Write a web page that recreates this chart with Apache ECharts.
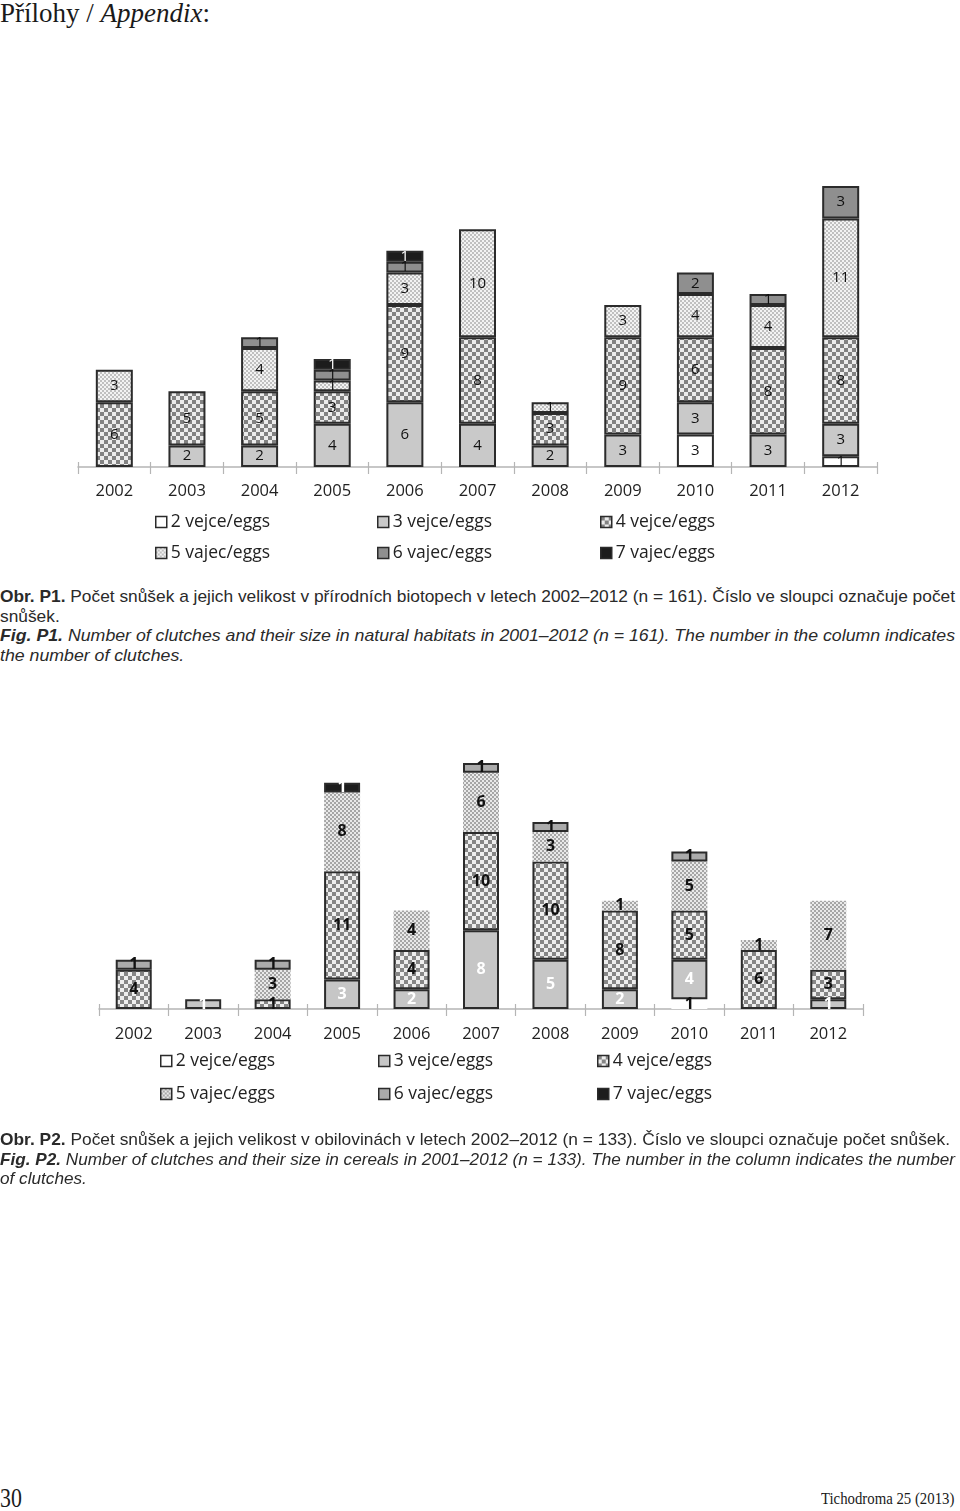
<!DOCTYPE html>
<html>
<head>
<meta charset="utf-8">
<script src="https://cdn.jsdelivr.net/npm/echarts@6/dist/echarts.min.js"></script>
<style>
  html, body { margin:0; padding:0; background:#fff; }
  body { width:960px; height:1511px; position:relative; overflow:hidden; }
  .abs { position:absolute; }
  #c1 { left:0; top:0; width:960px; height:580px; }
  #c2 { left:0; top:720px; width:960px; height:420px; }
  .hdr { left:0; top:-1px; font-family:"Liberation Serif", serif; font-size:27px; line-height:28px; color:#1a1a1a; white-space:nowrap; }
  .cap { left:0; font-family:"Liberation Sans", Arial, sans-serif; font-size:17px; color:#2a2a2a; }
  .cap div { height:19.7px; line-height:19.7px; white-space:nowrap; transform-origin:0 0; }
  .cap span { display:inline-block; }
  .foot { font-family:"Liberation Serif", serif; color:#1a1a1a; white-space:nowrap; transform-origin:0 0; }
</style>
</head>
<body>
<div class="abs hdr">Přílohy / <i>Appendix</i>:</div>
<div id="c1" class="abs"></div>
<div class="abs cap" style="top:587px;">
  <div data-w="955"><span><b>Obr. P1.</b> Počet snůšek a jejich velikost v přírodních biotopech v letech 2002–2012 (n = 161). Číslo ve sloupci označuje počet</span></div>
  <div><span>snůšek.</span></div>
  <div data-w="955"><span><b><i>Fig. P1.</i></b> <i>Number of clutches and their size in natural habitats in 2001–2012 (n = 161). The number in the column indicates</i></span></div>
  <div><span><i>the number of clutches.</i></span></div>
</div>
<div id="c2" class="abs"></div>
<div class="abs cap" style="top:1130px;">
  <div data-w="950"><span><b>Obr. P2.</b> Počet snůšek a jejich velikost v obilovinách v letech 2002–2012 (n = 133). Číslo ve sloupci označuje počet snůšek.</span></div>
  <div data-w="955"><span><b><i>Fig. P2.</i></b> <i>Number of clutches and their size in cereals in 2001–2012 (n = 133). The number in the column indicates the number</i></span></div>
  <div><span><i>of clutches.</i></span></div>
</div>
<div class="abs foot" style="left:0; top:1482px; font-size:28px; transform:scaleX(0.78);">30</div>
<div class="abs foot" style="left:821px; top:1489px; font-size:17px; transform:scaleX(0.87);">Tichodroma 25 (2013)</div>

<script>
// ---------- data ----------
const years = ['2002','2003','2004','2005','2006','2007','2008','2009','2010','2011','2012'];
const seriesNames = ['2 vejce/eggs','3 vejce/eggs','4 vejce/eggs','5 vajec/eggs','6 vajec/eggs','7 vajec/eggs'];

// Fig. P1 – natural habitats (n = 161)
const nat2 = [0,0,0,0,0,0,0,0,3,0,1];
const nat3 = [0,2,2,4,6,4,2,3,3,3,3];
const nat4 = [6,5,5,3,9,8,3,9,6,8,8];
const nat5 = [3,0,4,1,3,10,1,3,4,4,11];
const nat6 = [0,0,1,1,1,0,0,0,2,1,3];
const nat7 = [0,0,0,1,1,0,0,0,0,0,0];

// Fig. P2 – cereals (n = 133)
const cer2 = [0,0,0,0,0,0,0,0,1,0,0];
const cer3 = [0,1,0,3,2,8,5,2,4,0,1];
const cer4 = [4,0,1,11,4,10,10,8,5,6,3];
const cer5 = [0,0,3,8,4,6,3,1,5,1,7];
const cer6 = [1,0,1,0,0,1,1,0,1,0,0];
const cer7 = [0,0,0,1,0,0,0,0,0,0,0];

// ---------- caption fitting (condensed text) ----------
document.querySelectorAll('.cap').forEach(cap => {
  let s = 0.86;
  cap.querySelectorAll('div').forEach(d => {
    const target = parseFloat(d.getAttribute('data-w') || '0');
    if (target) {
      const w = d.querySelector('span').getBoundingClientRect().width;
      s = target / w;
    }
    d.style.transform = 'scaleX(' + s + ')';
  });
});

// ---------- patterns ----------
function checker(c1, c2, s) {
  const cv = document.createElement('canvas');
  cv.width = 2*s; cv.height = 2*s;
  const g = cv.getContext('2d');
  g.fillStyle = c1; g.fillRect(0,0,2*s,2*s);
  g.fillStyle = c2; g.fillRect(0,0,s,s); g.fillRect(s,s,s,s);
  return { image: cv, repeat: 'repeat' };
}

const FONT = '"Open Sans", "Liberation Sans", sans-serif';

function build(el, cfg) {
  const chart = echarts.init(el, null, { renderer: 'canvas' });
  const sets = cfg.data;
  const series = sets.map((arr, i) => ({
    name: seriesNames[i],
    type: 'bar',
    stack: 'total',
    barWidth: cfg.barWidth,
    data: arr.map(v => v > 0 ? v : null),
    itemStyle: Object.assign({ color: cfg.colors[i] }, cfg.border[i] ? { borderColor: '#2b2b2b', borderWidth: 2 } : { borderWidth: 0 }),
    label: {
      show: true, position: 'inside',
      formatter: p => p.value,
      fontFamily: FONT, fontSize: cfg.labelSize, fontWeight: cfg.bold ? 'bold' : 'normal',
      color: cfg.labelColors[i]
    },
    labelLayout: { hideOverlap: false },
    emphasis: { disabled: true }
  }));
  const legends = [];
  sets.forEach((arr, i) => {
    legends.push({
      data: [seriesNames[i]],
      left: cfg.legendLeft[i % 3],
      top: cfg.legendTop[Math.floor(i / 3)],
      padding: 0,
      icon: 'rect', itemWidth: 11, itemHeight: 11,
      selectedMode: false,
      itemStyle: { borderColor: '#2b2b2b', borderWidth: 1.5 },
      textStyle: { fontFamily: FONT, fontSize: 17.5, color: '#222', padding: [0,0,0,-1] }
    });
  });
  chart.setOption({
    animation: false,
    backgroundColor: 'transparent',
    grid: { left: cfg.grid.left, width: cfg.grid.width, top: cfg.grid.top, height: cfg.grid.height },
    legend: legends,
    xAxis: [{
      type: 'category', data: years, boundaryGap: true,
      axisLine: { lineStyle: { color: '#b5b5b5', width: 1.5 } },
      axisTick: { show: true, length: 7, lineStyle: { color: '#b5b5b5', width: 1.2 } },
      axisLabel: { fontFamily: FONT, fontSize: 16.5, color: '#222', margin: cfg.labelMargin }
    }, {
      type: 'category', data: years, boundaryGap: true, position: 'bottom',
      axisLine: { show: false },
      axisTick: { show: true, inside: true, length: 5, lineStyle: { color: '#b5b5b5', width: 1.2 } },
      axisLabel: { show: false }
    }],
    yAxis: { type: 'value', min: 0, max: cfg.ymax, show: false, splitLine: { show: false } },
    series: series
  });
}

build(document.getElementById('c1'), {
  data: [nat2, nat3, nat4, nat5, nat6, nat7],
  colors: ['#ffffff', '#c9c9c9', checker('#ececec', '#828282', 4), checker('#f3f3f3', '#c0c0c0', 2), '#8f8f8f', '#1c1c1c'],
  border: [true, true, true, true, true, true],
  labelColors: ['#111', '#111', '#111', '#111', '#111', '#ffffff'],
  bold: false,
  labelSize: 15,
  barWidth: 37,
  grid: { left: 78, width: 799, top: 186, height: 281 },
  ymax: 26,
  labelMargin: 16,
  legendLeft: [155, 377, 600],
  legendTop: [513, 544]
});

build(document.getElementById('c2'), {
  data: [cer2, cer3, cer4, cer5, cer6, cer7],
  colors: ['#ffffff', '#c6c6c6', checker('#eeeeee', '#868686', 4), checker('#e9e9e9', '#a6a6a6', 2), '#ababab', '#1c1c1c'],
  border: [false, true, true, false, true, true],
  labelColors: ['#111', '#ffffff', '#111', '#111', '#111', '#ffffff'],
  bold: true,
  labelSize: 16,
  barWidth: 36,
  grid: { left: 99, width: 764, top: 43, height: 246 },
  ymax: 25,
  labelMargin: 17,
  legendLeft: [160, 378, 597],
  legendTop: [332, 365]
});
</script>
</body>
</html>
